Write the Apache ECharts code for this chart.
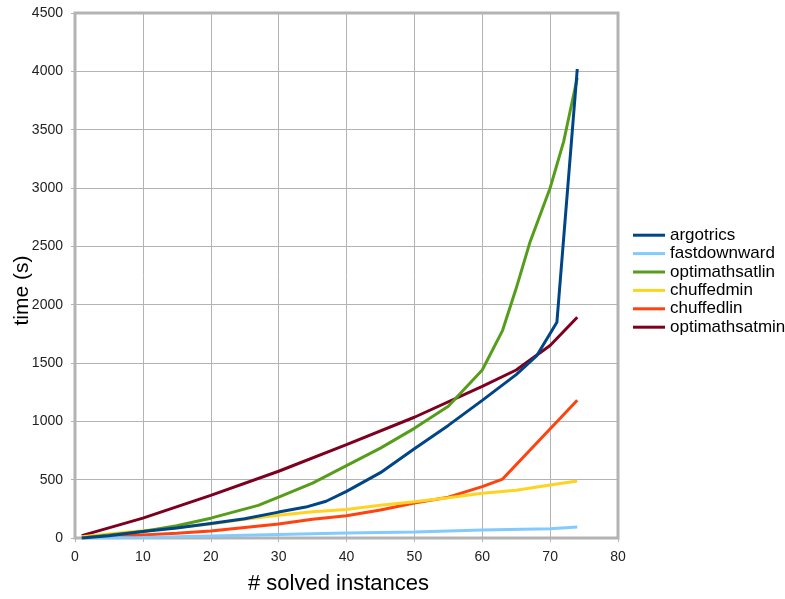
<!DOCTYPE html>
<html>
<head>
<meta charset="utf-8">
<script src="https://cdn.jsdelivr.net/npm/echarts@6/dist/echarts.min.js"></script>
<style>
html,body{margin:0;padding:0;background:#fff;}
#chart{width:785px;height:599px;}
</style>
</head>
<body>
<div id="chart"></div>
<script>
var xTicks = [0, 10, 20, 30, 40, 50, 60, 70, 80];
var yTicks = [0, 500, 1000, 1500, 2000, 2500, 3000, 3500, 4000, 4500];

var argotricsX = [1, 5, 10, 15, 20, 25, 30, 34, 37, 40, 45, 50, 55, 60, 65, 68, 71, 74];
var argotricsY = [0, 20, 55, 85, 125, 165, 222, 265, 315, 400, 560, 765, 965, 1180, 1400, 1560, 1850, 4020];

var fastdownwardX = [1, 10, 20, 30, 40, 50, 60, 70, 74];
var fastdownwardY = [0, 5, 18, 30, 42, 52, 69, 80, 94];

var optimathsatlinX = [1, 5, 10, 15, 20, 27, 30, 35, 40, 45, 50, 55, 60, 63, 65, 67, 70, 72, 74];
var optimathsatlinY = [0, 25, 55, 105, 170, 280, 350, 470, 620, 770, 940, 1130, 1440, 1780, 2140, 2530, 3000, 3400, 3945];

var chuffedminX = [1, 5, 10, 15, 20, 25, 30, 35, 40, 45, 50, 55, 60, 65, 70, 74];
var chuffedminY = [10, 35, 62, 90, 120, 160, 195, 225, 245, 280, 310, 345, 384, 410, 454, 488];

var chuffedlinX = [1, 5, 10, 15, 20, 25, 30, 35, 40, 45, 50, 55, 60, 63, 74];
var chuffedlinY = [0, 10, 25, 40, 60, 90, 120, 160, 190, 240, 300, 350, 440, 505, 1180];

var optimathsatminX = [1, 10, 20, 30, 40, 50, 60, 65, 70, 74];
var optimathsatminY = [20, 170, 365, 572, 800, 1035, 1300, 1440, 1650, 1892];

function pts(xs, ys) { return xs.map(function (x, i) { return [x, ys[i]]; }); }

var seriesDefs = [
  ['argotrics', argotricsX, argotricsY, '#004586'],
  ['fastdownward', fastdownwardX, fastdownwardY, '#83caff'],
  ['optimathsatlin', optimathsatlinX, optimathsatlinY, '#579d1c'],
  ['chuffedmin', chuffedminX, chuffedminY, '#ffd320'],
  ['chuffedlin', chuffedlinX, chuffedlinY, '#ff420e'],
  ['optimathsatmin', optimathsatminX, optimathsatminY, '#7e0021']
];

var series = seriesDefs.map(function (d, i) {
  return {
    name: d[0],
    type: 'line',
    data: pts(d[1], d[2]),
    showSymbol: false,
    symbol: 'none',
    lineStyle: { width: 3, color: d[3] },
    itemStyle: { color: d[3] },
    z: 10 - i,
    animation: false
  };
});

var FONT = 'Liberation Sans, Arial, sans-serif';
var chart = echarts.init(document.getElementById('chart'), null, { renderer: 'canvas' });
chart.setOption({
  backgroundColor: '#ffffff',
  animation: false,
  textStyle: { fontFamily: FONT },
  grid: {
    left: 75, right: 167, top: 13, bottom: 61,
    containLabel: false,
    outerBoundsMode: 'none',
    show: true, borderColor: '#b3b3b3', borderWidth: 3, backgroundColor: 'transparent'
  },
  legend: {
    orient: 'vertical',
    left: 633, top: 226,
    padding: 0,
    icon: 'rect',
    itemWidth: 32, itemHeight: 3,
    itemGap: 0,
    textStyle: { fontSize: 17, lineHeight: 18.4, color: '#000', fontFamily: FONT },
    data: seriesDefs.map(function (d) { return d[0]; })
  },
  xAxis: {
    type: 'value',
    min: 0, max: 80, interval: 10,
    name: '# solved instances',
    nameLocation: 'middle',
    nameGap: 35,
    nameMoveOverlap: false,
    nameTextStyle: { fontSize: 22, color: '#000', padding: [0, 16, 0, 0] },
    axisLine: { show: false },
    axisTick: { show: true, length: 4, lineStyle: { color: '#b3b3b3' } },
    axisLabel: { fontSize: 14, color: '#222', margin: 12,
      formatter: function (v) { return xTicks.indexOf(v) >= 0 ? String(v) : ''; } },
    splitLine: { show: true, lineStyle: { color: '#b3b3b3', width: 1 } }
  },
  yAxis: {
    type: 'value',
    min: 0, max: 4500, interval: 500,
    name: 'time (s)',
    nameLocation: 'middle',
    nameGap: 42,
    nameMoveOverlap: false,
    nameTextStyle: { fontSize: 21, color: '#000', padding: [0, 30, 0, 0] },
    axisLine: { show: false },
    axisTick: { show: true, length: 4, lineStyle: { color: '#b3b3b3' } },
    axisLabel: { fontSize: 14, color: '#222', margin: 12,
      formatter: function (v) { return yTicks.indexOf(v) >= 0 ? String(v) : ''; } },
    splitLine: { show: true, lineStyle: { color: '#b3b3b3', width: 1 } }
  },
  series: series
});
</script>
</body>
</html>
